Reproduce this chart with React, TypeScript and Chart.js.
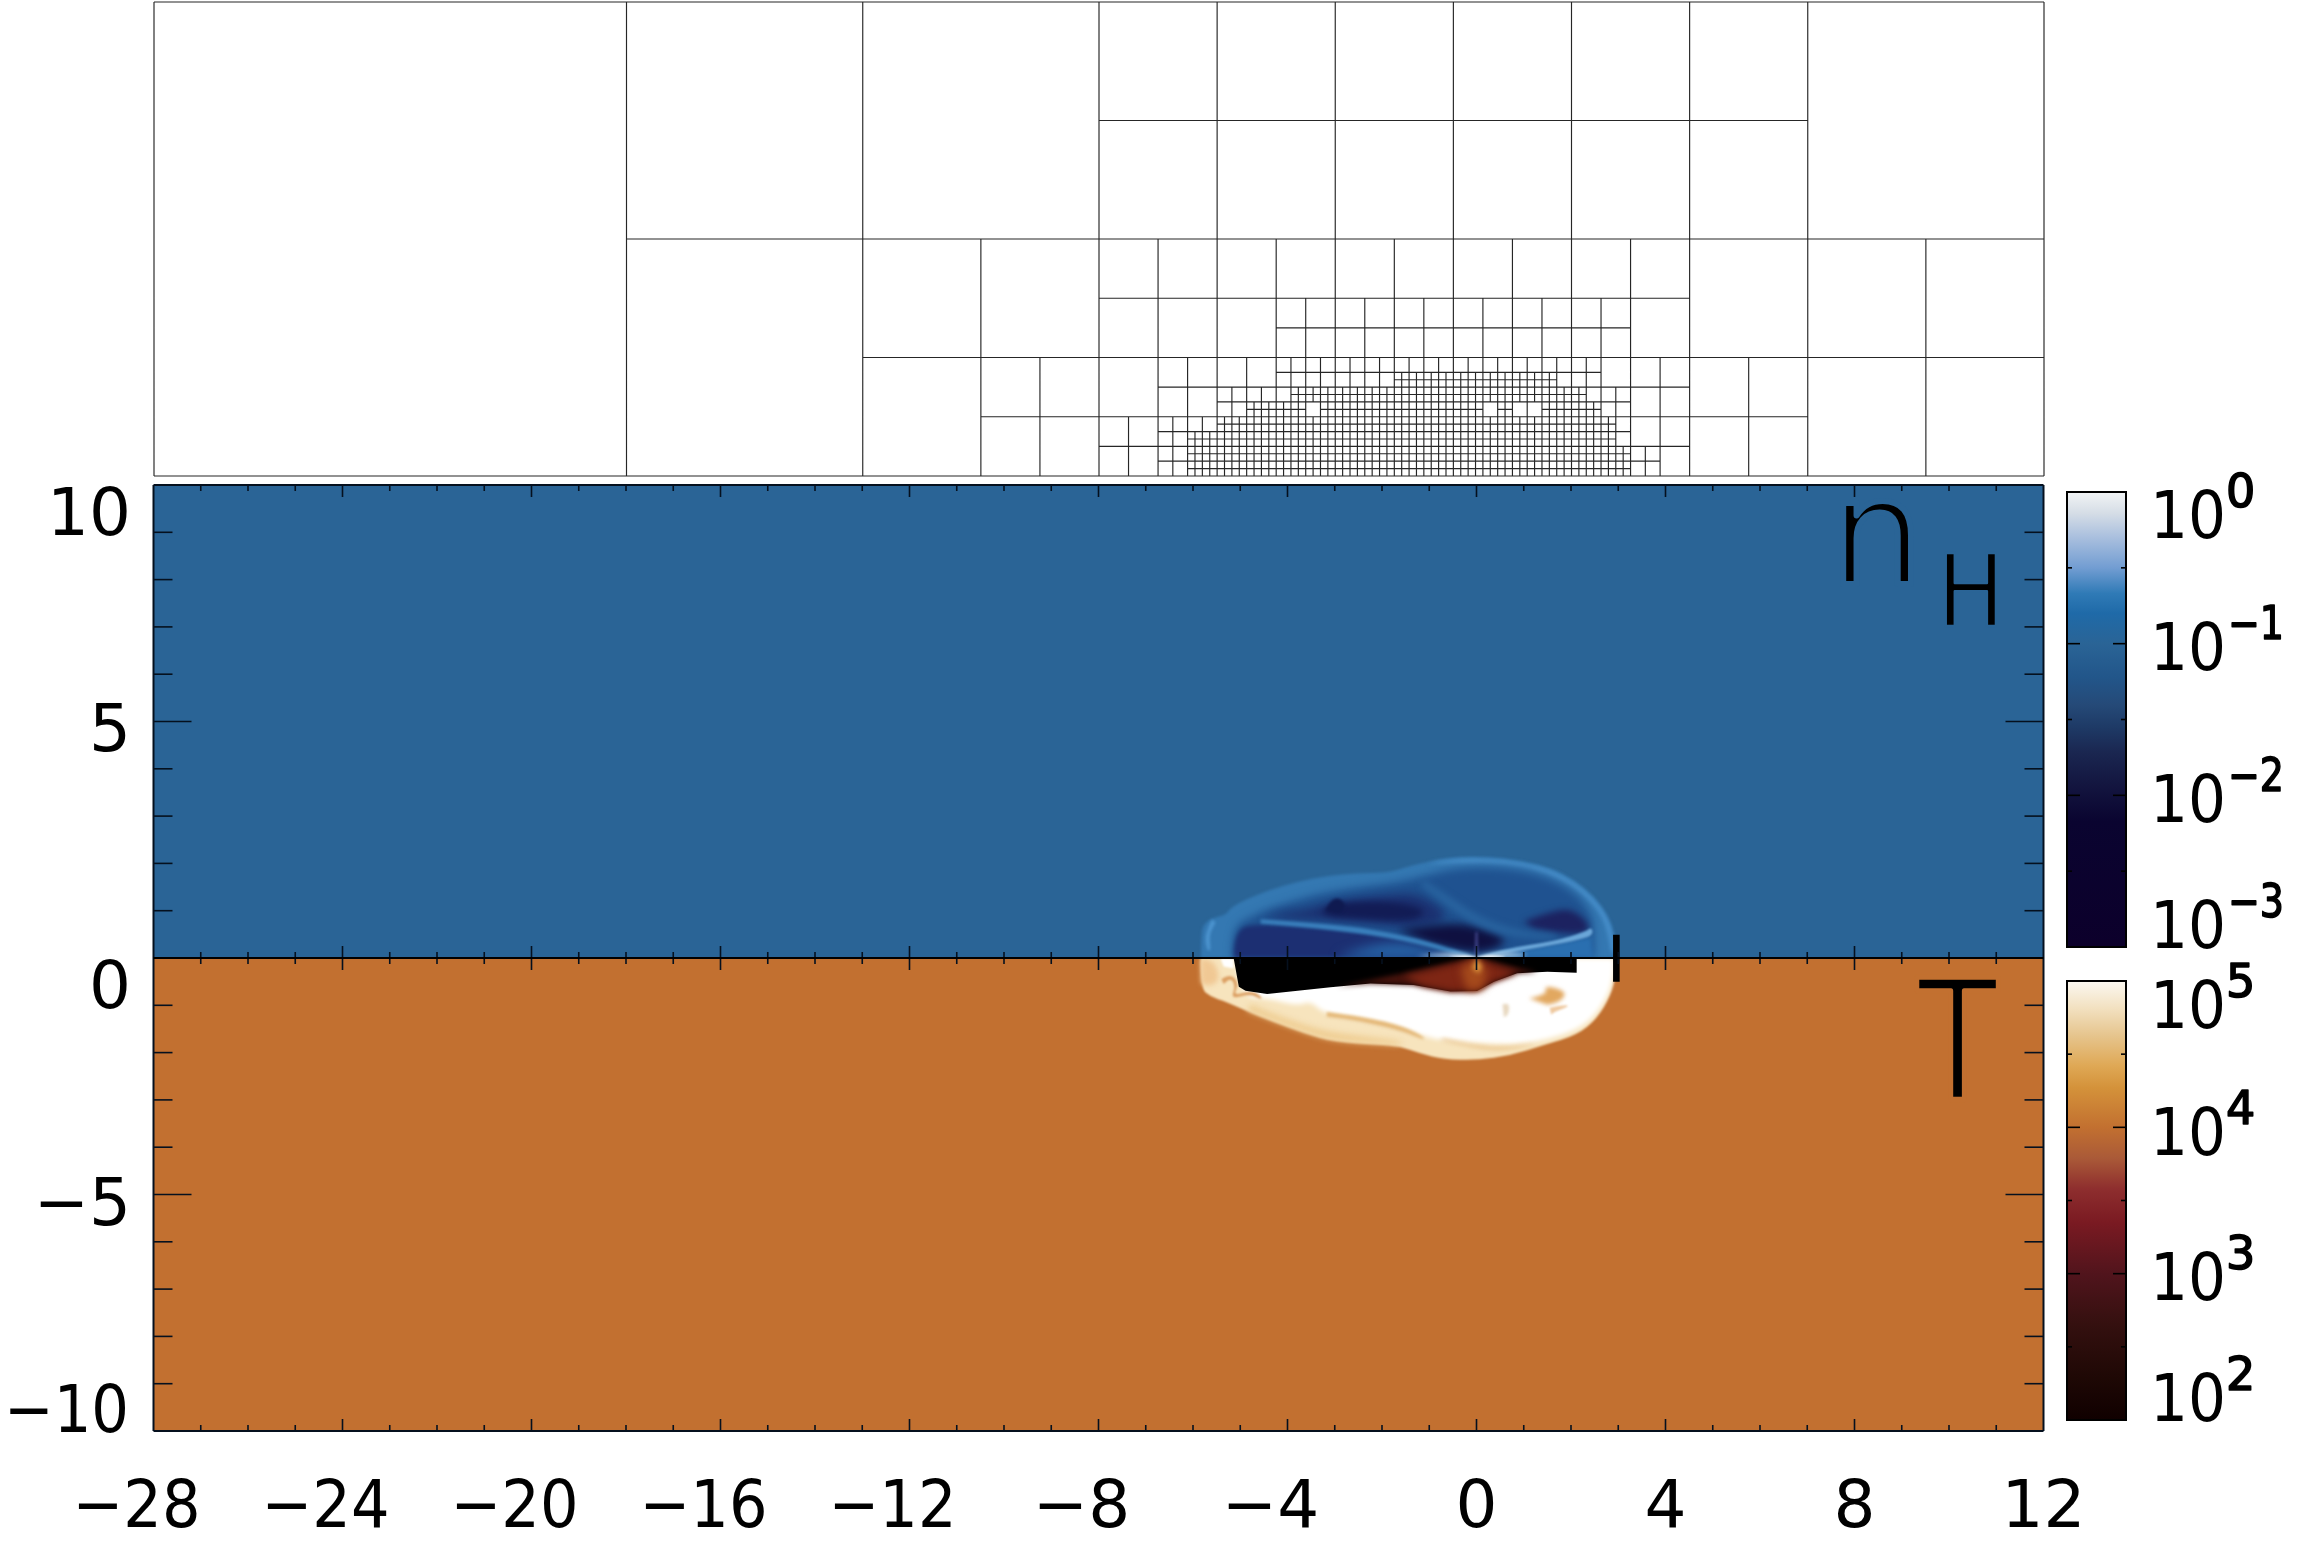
import React, { useEffect, useRef } from "react";
import Chart from "chart.js/auto";

// ---------- axis data ----------
const xMin = -28, xMax = 12, yMin = -10, yMax = 10;
const xTickLabels = [-28, -24, -20, -16, -12, -8, -4, 0, 4, 8, 12];
const yTickLabels = [10, 5, 0, -5, -10];
const nhExponents = [0, -1, -2, -3];
const tExponents = [5, 4, 3, 2];

// ---------- mesh: x0, x1, y0, y1, cell size ----------
const meshBlocks = [
  [-28, -18, 0, 10, 10], [-18, -8, 5, 10, 5], [-18, -13, 0, 5, 5], [-13, -8, 2.5, 5, 2.5],
  [-13, -10.5, 0, 2.5, 2.5], [-10.5, -8, 0, 2.5, 1.25], [-8, 7, 5, 10, 2.5], [7, 12, 5, 10, 5],
  [4.5, 7, 2.5, 5, 2.5], [7, 12, 0, 5, 2.5], [4.5, 7, 0, 2.5, 1.25], [-8, 4.5, 3.75, 5, 1.25],
  [-8, -4.25, 2.5, 3.75, 1.25], [-4.25, 3.25, 2.5, 3.75, 0.625], [3.25, 4.5, 2.5, 3.75, 1.25],
  [-8, -6.75, 1.25, 2.5, 1.25], [-6.75, -4.25, 1.875, 2.5, 0.625],
  [-4.25, 2.625, 2.1875, 2.5, 0.3125], [-4.25, -1.75, 1.875, 2.1875, 0.3125],
  [-1.75, 1.6875, 1.875, 2.1875, 0.15625], [1.6875, 2.625, 1.875, 2.1875, 0.3125],
  [2.625, 3.25, 1.875, 2.5, 0.625], [3.25, 4.5, 1.25, 2.5, 0.625],
  [-6.75, -5.5, 1.25, 1.875, 0.625], [-5.5, -4.25, 1.5625, 1.875, 0.3125],
  [-4.25, -3.9375, 1.5625, 1.875, 0.3125], [-3.9375, 2.3125, 1.5625, 1.875, 0.15625],
  [2.3125, 3.25, 1.5625, 1.875, 0.3125],
  [-5.5, -4.875, 1.25, 1.5625, 0.3125], [-4.875, -3.625, 1.25, 1.5625, 0.15625],
  [-3.625, -3.3125, 1.25, 1.5625, 0.3125], [-3.3125, 0.125, 1.25, 1.5625, 0.15625],
  [0.125, 0.4375, 1.25, 1.5625, 0.3125], [0.4375, 0.75, 1.25, 1.5625, 0.15625],
  [0.75, 1.375, 1.25, 1.5625, 0.3125], [1.375, 2.625, 1.25, 1.5625, 0.15625],
  [2.625, 3.25, 1.25, 1.5625, 0.3125],
  [-8, -6.75, 0, 1.25, 0.625], [-6.75, -6.125, 0, 1.25, 0.3125], [-6.125, -5.5, 0.9375, 1.25, 0.3125],
  [-6.125, -5.5, 0, 0.9375, 0.15625], [-5.5, 2.9375, 0, 1.25, 0.15625],
  [2.9375, 3.25, 0.625, 1.25, 0.3125], [2.9375, 3.25, 0, 0.625, 0.15625],
  [3.25, 3.875, 0, 0.625, 0.3125], [3.875, 4.5, 0, 0.625, 0.625], [3.25, 4.5, 0.625, 1.25, 0.625],
];

// ---------- field outlines, [x, y] in plot units ----------
const nhBackground = [[-28, 0], [12, 0], [12, 10], [-28, 10]];
const tBackground = [[-28, 0], [12, 0], [12, -10], [-28, -10]];
const nhShell = [[-5.83, 0], [-5.83, 0.49], [-5.77, 0.73], [-5.56, 0.86], [-5.31, 0.91], [-5.21, 1.05], [-4.85, 1.26], [-4.36, 1.44], [-3.8, 1.61], [-3.16, 1.74], [-2.53, 1.79], [-1.89, 1.8], [-1.54, 1.9], [-1.04, 2.04], [-0.48, 2.13], [0.23, 2.14], [0.93, 2.06], [1.57, 1.9], [2.06, 1.65], [2.48, 1.3], [2.77, 0.91], [2.91, 0.52], [2.96, 0]];
const nhShellEdge = [[-1.04, 2.0], [-0.48, 2.09], [0.23, 2.1], [0.93, 2.02], [1.57, 1.86], [2.06, 1.61], [2.48, 1.26], [2.77, 0.87], [2.9, 0.45], [2.94, 0.1], [2.85, 0.1], [2.81, 0.45], [2.68, 0.85], [2.4, 1.22], [2.0, 1.54], [1.52, 1.78], [0.93, 1.95], [0.23, 2.02], [-0.48, 2.01]];
const nhLeftCurl = [[-5.6, 0.82], [-5.76, 0.5], [-5.7, 0.15], [-5.62, 0.15], [-5.66, 0.5], [-5.52, 0.75]];
const nhInner = [[2.47, 0], [2.5, 0.59], [2.41, 0.98], [2.1, 1.37], [1.57, 1.68], [0.93, 1.86], [0.23, 1.93], [-0.48, 1.9], [-1.04, 1.75], [-1.61, 1.61], [-2.38, 1.51], [-3.16, 1.4], [-3.8, 1.23], [-4.36, 1.05], [-4.78, 0.87], [-5.14, 0.66], [-5.17, 0]];
const nhDarkBand = [[-4.5, 0.86], [-4.08, 0.98], [-3.65, 1.01], [-3.16, 1.16], [-2.53, 1.26], [-1.89, 1.33], [-1.33, 1.37], [-0.9, 1.16], [-0.62, 0.91], [-0.83, 0.73], [-1.54, 0.65], [-2.24, 0.73], [-3.09, 0.8], [-3.8, 0.82]];
const nhDarkCore = [[-3.3, 0.95], [-3.12, 1.14], [-2.6, 1.18], [-1.9, 1.2], [-1.3, 1.1], [-1.05, 0.95], [-1.4, 0.78], [-2.3, 0.82], [-3.0, 0.86]];
const nhSwirl = [[-3.2, 1.0], [-3.1, 1.22], [-2.9, 1.28], [-2.75, 1.1], [-2.9, 0.95]];
const nhLowerLeft = [[-5.14, 0], [-5.14, 0.61], [-4.57, 0.73], [-2.95, 0.61], [-1.54, 0.42], [-0.41, 0.06], [-0.41, 0]];
const nhLowerGlow = [[-2.95, 0], [-2.1, 0.38], [-0.83, 0.2], [-0.27, 0]];
const nhCentre = [[-1.68, 0.59], [-0.97, 0.7], [-0.27, 0.73], [0.3, 0.56], [0.68, 0.35], [0.23, 0.13], [-0.27, 0.13], [-0.97, 0.31]];
const nhRightDark = [[1.0, 0.77], [1.43, 0.94], [1.92, 1.05], [2.2, 0.91], [2.4, 0.66], [2.27, 0.5], [1.64, 0.54], [1.21, 0.63]];
const nhCurveBand = [[-1.11, 1.65], [-0.62, 1.33], [-0.13, 0.98], [0.4, 0.73], [1.0, 0.56], [1.71, 0.49], [1.71, 0.4], [1.0, 0.42], [0.33, 0.56], [-0.2, 0.8], [-0.69, 1.16], [-1.19, 1.54]];
const nhLeftStreak = [[-4.57, 0.82], [-2.95, 0.72], [-1.54, 0.49], [-0.41, 0.17], [0, 0.01], [-0.41, 0.06], [-1.54, 0.38], [-2.95, 0.59], [-4.57, 0.73]];
const nhRightFloor = [[0.1, 0], [2.43, 0.45], [2.47, 0]];
const nhRightStreak = [[0, 0.01], [0.58, 0.2], [1.64, 0.35], [2.31, 0.56], [2.43, 0.65], [2.47, 0.52], [2.34, 0.42], [1.64, 0.28], [0.65, 0.1]];
const nhRays = [[-1.26, 0.03], [-0.55, 0.13], [-0.13, 0.06], [0, 0.01], [0.12, 0.06], [0.58, 0.13], [1.21, 0.06], [0.58, 0], [-0.48, 0]];
const nhCore = [[-0.6, 0.03], [-0.2, 0.07], [0, 0.01], [0.25, 0.07], [0.7, 0.03], [0.4, 0], [-0.3, 0]];
const nhVertical = [[-0.03, 0.05], [-0.02, 0.55], [0.02, 0.55], [0.03, 0.05]];

const tOuter = [[-5.84, 0], [-5.84, -0.64], [-5.63, -0.82], [-5.31, -0.92], [-4.85, -1.13], [-4.29, -1.35], [-3.65, -1.59], [-3.02, -1.77], [-2.1, -1.83], [-1.61, -1.87], [-1.19, -2.02], [-0.69, -2.14], [0.01, -2.16], [0.72, -2.06], [1.43, -1.84], [2.13, -1.63], [2.55, -1.28], [2.84, -0.78], [2.94, -0.36], [2.94, 0]];
const tLowerBand = [[-4.85, -1.11], [-4.29, -1.33], [-3.65, -1.57], [-3.02, -1.75], [-2.1, -1.81], [-1.61, -1.85], [-1.54, -1.76], [-2.38, -1.66], [-3.23, -1.55], [-4.08, -1.27], [-4.78, -0.99]];
const tWhite = [[-5.1, 0], [-5.0, -0.82], [-4.43, -0.85], [-3.8, -1.01], [-3.51, -0.91], [-3.23, -1.18], [-2.38, -1.29], [-1.54, -1.5], [-1.08, -1.66], [-0.83, -1.72], [-0.55, -1.73], [0.23, -1.82], [0.93, -1.82], [1.5, -1.72], [2.13, -1.52], [2.52, -1.21], [2.8, -0.75], [2.91, -0.36], [2.91, 0]];
const tCornerPeach = [[-5.84, -0.01], [-5.56, -0.01], [-5.42, -0.46], [-5.63, -0.6], [-5.83, -0.54]];
const tCornerWhite = [[-5.42, -0.01], [-5.14, -0.01], [-5.14, -0.22], [-5.35, -0.18]];
const tCurl = [[-5.4, -0.45], [-5.2, -0.32], [-5.03, -0.55], [-5.15, -0.8], [-4.75, -0.68], [-4.55, -0.82], [-4.55, -0.88], [-4.8, -0.76], [-5.2, -0.87], [-5.1, -0.6], [-5.2, -0.42], [-5.35, -0.55]];
const tLeftStreak = [[-3.17, -1.14], [-2.38, -1.24], [-1.54, -1.45], [-1.11, -1.67], [-1.11, -1.74], [-1.54, -1.56], [-2.38, -1.35], [-3.17, -1.24]];
const tRightStreak = [[-0.76, -1.73], [-0.13, -1.89], [0.58, -1.96], [1.43, -1.77], [0.58, -1.91], [-0.13, -1.84], [-0.69, -1.7]];
const tPatch = [[1.11, -0.85], [1.5, -0.78], [1.43, -0.57], [1.92, -0.71], [1.78, -0.92], [1.5, -0.99]];
const tSpeck = [[0.55, -0.98], [0.7, -0.93], [0.68, -1.2], [0.58, -1.25]];
const tLoop = [[1.55, -1.05], [1.9, -0.98], [1.95, -1.03], [1.65, -1.14], [1.58, -1.2]];
const tBlack = [[-5.14, 0], [-5.03, -0.61], [-4.89, -0.69], [-4.43, -0.76], [-3.09, -0.62], [-2.24, -0.54], [-1.33, -0.57], [-0.55, -0.71], [0.01, -0.7], [0.37, -0.5], [0.86, -0.32], [1.5, -0.29], [2.12, -0.31], [2.12, 0]];
const tWedgeDark = [[0, 0], [1.28, -0.3], [0.86, -0.32], [0.37, -0.5], [0.01, -0.7], [-0.55, -0.71], [-1.33, -0.57], [-2.24, -0.54], [-2.95, -0.61]];
const tWedgeRed = [[0, -0.01], [0.58, -0.22], [0.86, -0.31], [0.37, -0.49], [0.01, -0.68], [-0.55, -0.7], [-1.11, -0.59], [-1.54, -0.39]];
const tWedgeMid = [[0, -0.01], [0.23, -0.29], [0.12, -0.66], [-0.2, -0.68], [-0.34, -0.22]];
const tWedgeHot = [[0, 0], [0.12, -0.18], [0.05, -0.32], [-0.09, -0.22]];
const midBar = [[2.89, 0.49], [3.03, 0.49], [3.03, -0.5], [2.89, -0.5]];

// ---------- colour bars: exponent, colour ----------
const nhStops: [number, string][] = [[0, "#f2f4f5"], [-0.14, "#d5dde6"], [-0.3, "#a9bfde"], [-0.5, "#729dd2"], [-0.67, "#2f7ab6"], [-0.8, "#1f6aa8"], [-1, "#2a6496"], [-1.22, "#22568a"], [-1.4, "#254a78"], [-1.55, "#1e3a66"], [-1.72, "#1a2650"], [-1.94, "#13153f"], [-2.17, "#0a0430"], [-3, "#0c002b"]];
const tStops: [number, string][] = [[5, "#fbf8f1"], [4.81, "#f2e0bf"], [4.63, "#e6c58e"], [4.42, "#dfa855"], [4.27, "#d4923a"], [4, "#c27030"], [3.79, "#aa5a38"], [3.58, "#8e2e2e"], [3.35, "#7a1a22"], [2.99, "#50141c"], [2.65, "#34100f"], [2.28, "#1e0805"], [2, "#100000"]];

// ---------- styling of field layers ----------
const nhLayers = [
  [nhBackground, "#2a6496", 0, false], [nhShell, "#3478b2", 1.5, true], [nhShellEdge, "#4a92ce", 2, true],
  [nhLeftCurl, "#4c94cf", 1.5, true], [nhInner, "#1f5290", 4, true],
  [nhDarkBand, "#1b3070", 5, true], [nhDarkCore, "#121c55", 3, true], [nhSwirl, "#0f1a50", 1.5, true],
  [nhLowerLeft, "#1c2f72", 2, true], [nhLowerGlow, "#2666a8", 6, true],
  [nhCentre, "#0f1040", 4, true], [nhRightDark, "#1c2260", 3, true], [nhCurveBand, "#28639f", 3, true],
  [nhLeftStreak, "#3a80bd", 1.8, true], [nhRightFloor, "#2a6fb0", 2, false], [nhRightStreak, "#6aa6d8", 1.3, true],
  [nhVertical, "#4a4f98", 1.5, false], [nhRays, "#b8d6ee", 2.5, true], [nhCore, "#ffffff", 1.2, true],
] as const;
const tLayers = [
  [tBackground, "#c27030", 0, false], [tOuter, "#f7e4bd", 0.8, true], [tLowerBand, "#eecb8e", 3, true],
  [tWhite, "#ffffff", 2.5, true], [tCornerPeach, "#f0c894", 2.5, true], [tCornerWhite, "#ffffff", 1, false],
  [tCurl, "#dca064", 1.2, true], [tLeftStreak, "#e4b878", 1.8, true], [tRightStreak, "#e6bb80", 2, true],
  [tPatch, "#e2a860", 2, true], [tSpeck, "#e8d8c0", 1.5, true], [tLoop, "#efc9a0", 1.2, true],
  [tBlack, "#000000", 0.6, false], [tWedgeDark, "#45130c", 2.5, false],
  [tWedgeRed, "#7e2614", 3.5, false], [tWedgeMid, "#a54a1c", 4, false], [tWedgeHot, "#e09a40", 2.5, false],
] as const;

// ---------- page layout (pixels) ----------
const W = 2303, H = 1555;
const plot = { l: 153.5, r: 2043.5, t: 485, b: 1431 };
const mesh = { l: 154, r: 2044, t: 2, b: 476 };
const barNh = { l: 2067, r: 2126, t: 492, b: 947 };
const barT = { l: 2067, r: 2126, t: 981, b: 1420 };
const FONT = "'DejaVu Sans'";
const yBaselineOffset: Record<string, number> = { "10": 50, "5": 29, "0": 50, "-5": 30.5, "-10": 1 };
const nhLabelBaseline: Record<string, number> = { "0": 538, "-1": 670, "-2": 822, "-3": 948 };
const tLabelBaseline: Record<string, number> = { "5": 1028, "4": 1155, "3": 1300, "2": 1421 };

const minus = (v: number) => String(v).replace("-", "\u2212");
const pad = (a: { l: number; r: number; t: number; b: number }) => ({ left: a.l, right: W - a.r, top: a.t, bottom: H - a.b });
const quietAxis = (min: number, max: number, stepSize: number) => ({
  type: "linear" as const, min, max, display: true,
  ticks: { display: false, stepSize, autoSkip: false },
  grid: { display: false, drawTicks: false }, border: { display: false },
});
const baseOptions = (area: any) => ({
  responsive: false, animation: false as const, devicePixelRatio: 1, events: [] as any[],
  layout: { padding: pad(area), autoPadding: false },
  plugins: { legend: { display: false }, tooltip: { enabled: false }, title: { display: false } },
});

function meshSegments() {
  const pts: { x: number; y: number }[] = [];
  const gap = () => pts.push({ x: NaN, y: NaN });
  for (const [x0, x1, y0, y1, h] of meshBlocks) {
    const nx = Math.round((x1 - x0) / h), ny = Math.round((y1 - y0) / h);
    for (let i = 0; i <= nx; i++) { pts.push({ x: x0 + i * h, y: y0 }, { x: x0 + i * h, y: y1 }); gap(); }
    for (let j = 0; j <= ny; j++) { pts.push({ x: x0, y: y0 + j * h }, { x: x1, y: y0 + j * h }); gap(); }
  }
  return pts;
}

const fieldPlugin = {
  id: "field",
  beforeDatasetsDraw(chart: any) {
    const { ctx, chartArea: a, scales: { y } } = chart;
    const mid = y.getPixelForValue(0);
    chart.data.datasets.forEach((ds: any, i: number) => {
      if (!ds.layer) return;
      const els = chart.getDatasetMeta(i).data;
      const c = ctx; c.save();
      c.beginPath();
      if (ds.layer === "top") c.rect(a.left, a.top, a.width, mid - a.top);
      else if (ds.layer === "bottom") c.rect(a.left, mid, a.width, a.bottom - mid);
      else c.rect(a.left, a.top, a.width, a.height);
      c.clip();
      if (ds.blur) c.filter = `blur(${ds.blur}px)`;
      c.fillStyle = ds.fillColor;
      c.beginPath();
      const n = els.length;
      if (ds.smooth) {
        c.moveTo(els[0].x, els[0].y);
        for (let k = 1; k < n - 1; k++) {
          const mx = (els[k].x + els[k + 1].x) / 2, my = (els[k].y + els[k + 1].y) / 2;
          c.quadraticCurveTo(els[k].x, els[k].y, mx, my);
        }
        c.lineTo(els[n - 1].x, els[n - 1].y);
      } else {
        els.forEach((e: any, k: number) => (k ? c.lineTo(e.x, e.y) : c.moveTo(e.x, e.y)));
      }
      c.closePath();
      c.fill();
      c.restore();
    });
  },
  afterDraw(chart: any) {
    const { ctx: c, chartArea: a, scales: { x, y } } = chart;
    const mid = y.getPixelForValue(0);
    c.save();
    c.strokeStyle = "#05101e"; c.lineWidth = 1.6;
    const line = (x0: number, y0: number, x1: number, y1: number) => { c.beginPath(); c.moveTo(x0, y0); c.lineTo(x1, y1); c.stroke(); };
    for (const t of x.ticks) {
      const p = x.getPixelForValue(t.value), len = t.value % 4 === 0 ? 12 : 6;
      if (t.value === xMin || t.value === xMax) continue;
      line(p, a.top, p, a.top + len); line(p, a.bottom, p, a.bottom - len);
      line(p, mid - len, p, mid + len);
    }
    for (const t of y.ticks) {
      if (t.value === yMin || t.value === yMax || t.value === 0) continue;
      const p = y.getPixelForValue(t.value), len = t.value % 5 === 0 ? 38 : 19;
      line(a.left, p, a.left + len, p); line(a.right, p, a.right - len, p);
    }
    c.lineWidth = 2;
    line(a.left, a.top, a.right, a.top); line(a.left, a.bottom, a.right, a.bottom);
    line(a.left, a.top, a.left, a.bottom); line(a.right, a.top, a.right, a.bottom);
    c.strokeStyle = "#000"; line(a.left, mid, a.right, mid);

    c.fillStyle = "#000"; c.textBaseline = "alphabetic";
    c.font = `66px ${FONT}`; c.textAlign = "center";
    for (const v of xTickLabels) {
      const s = minus(v);
      const px = x.getPixelForValue(v) + (v < 0 ? -17 : 0);
      if (v <= -10) c.fillText(s, px, 1527, 128); else c.fillText(s, px, 1527);
    }
    c.textAlign = "right";
    for (const v of yTickLabels) {
      const py = y.getPixelForValue(v) + yBaselineOffset[String(v)];
      if (v <= -10) c.fillText(minus(v), 129, py, 125); else c.fillText(minus(v), 131, py);
    }
    // thin upright letters: glyph filled, then trimmed with the field colour
    const thin = (s: string, dx: number, dy: number, size: number, sx: number, trim: number, bg: string) => {
      c.save();
      c.translate(x.getPixelForValue(dx), y.getPixelForValue(dy));
      c.scale(sx, 1);
      c.font = `${size}px ${FONT}`; c.textAlign = "center";
      c.fillStyle = "#000"; c.fillText(s, 0, 0);
      c.strokeStyle = bg; c.lineWidth = trim; c.lineJoin = "round"; c.strokeText(s, 0, 0);
      c.restore();
    };
    thin("n", 8.47, 7.9, 148, 1, 6, "#2a6496");
    thin("H", 10.46, 7.02, 100, 0.9, 2.5, "#2a6496");
    thin("T", 10.18, -2.98, 168, 0.78, 5.5, "#c27030");
    c.restore();
  },
};

const barPlugin = (exps: number[], baselines: Record<string, number>) => ({
  id: "barFrame",
  afterDraw(chart: any) {
    const { ctx: c, chartArea: a, scales: { y } } = chart;
    c.save();
    c.strokeStyle = "#000"; c.lineWidth = 1.6;
    const line = (x0: number, y0: number, x1: number, y1: number) => { c.beginPath(); c.moveTo(x0, y0); c.lineTo(x1, y1); c.stroke(); };
    for (const t of y.ticks) {
      if (t.value === y.min || t.value === y.max) continue;
      const p = y.getPixelForValue(t.value), len = Number.isInteger(t.value) ? 13 : 5;
      line(a.left, p, a.left + len, p); line(a.right, p, a.right - len, p);
    }
    c.lineWidth = 2;
    c.strokeRect(a.left, a.top, a.width, a.height);
    c.fillStyle = "#000"; c.strokeStyle = "#000"; c.textBaseline = "alphabetic"; c.textAlign = "left";
    for (const e of exps) {
      const b = baselines[String(e)];
      c.font = `66px ${FONT}`;
      c.fillText("10", 2150, b, 76);
      c.font = `46px ${FONT}`;
      c.lineWidth = 1.6; c.lineJoin = "round";
      if (e < 0) { c.fillText(minus(e), 2228, b - 31, 56); c.strokeText(minus(e), 2228, b - 31, 56); }
      else { c.fillText(String(e), 2226, b - 31); c.strokeText(String(e), 2226, b - 31); }
    }
    c.restore();
  },
});

function colorBar(canvas: HTMLCanvasElement, area: any, stops: [number, string][], exps: number[], baselines: Record<string, number>) {
  const top = stops[0][0], bottom = stops[stops.length - 1][0];
  return new Chart(canvas, {
    type: "bar",
    data: {
      labels: ["colour"],
      datasets: [{
        data: [[bottom, top]] as any,
        barPercentage: 1, categoryPercentage: 1, borderWidth: 0,
        backgroundColor: (ctx: any) => {
          const y = ctx.chart.scales.y;
          const y0 = y ? y.getPixelForValue(top) : NaN, y1 = y ? y.getPixelForValue(bottom) : NaN;
          if (!Number.isFinite(y0) || !Number.isFinite(y1)) return stops[0][1];
          const g = ctx.chart.ctx.createLinearGradient(0, y0, 0, y1);
          for (const [e, col] of stops) g.addColorStop((top - e) / (top - bottom), col);
          return g;
        },
      }],
    },
    options: {
      ...baseOptions(area),
      scales: {
        x: { display: true, ticks: { display: false }, grid: { display: false, drawTicks: false }, border: { display: false } },
        y: quietAxis(bottom, top, 0.5),
      },
    } as any,
    plugins: [barPlugin(exps, baselines)],
  });
}

const fieldDataset = (pts: readonly any[], color: string, blur: number, smooth: boolean, layer: string) => ({
  data: pts.map(([x, y]: number[]) => ({ x, y })),
  showLine: false, pointRadius: 0, layer, fillColor: color, blur, smooth,
});

export default function App() {
  const meshRef = useRef<HTMLCanvasElement>(null);
  const fieldRef = useRef<HTMLCanvasElement>(null);
  const nhRef = useRef<HTMLCanvasElement>(null);
  const tRef = useRef<HTMLCanvasElement>(null);
  useEffect(() => {
    const charts = [
      new Chart(meshRef.current!, {
        type: "scatter",
        data: { datasets: [{ data: meshSegments(), showLine: true, spanGaps: false, borderColor: "#262626", borderWidth: 1.15, pointRadius: 0, clip: 3 } as any] },
        options: { ...baseOptions(mesh), scales: { x: quietAxis(xMin, xMax, 4), y: quietAxis(0, 10, 5) } } as any,
      }),
      new Chart(fieldRef.current!, {
        type: "scatter",
        data: {
          datasets: [
            ...nhLayers.map(([p, c, b, s]) => fieldDataset(p, c, b, s, "top")),
            ...tLayers.map(([p, c, b, s]) => fieldDataset(p, c, b, s, "bottom")),
            fieldDataset(midBar, "#000000", 0, false, "all"),
          ] as any,
        },
        options: { ...baseOptions(plot), scales: { x: quietAxis(xMin, xMax, 1), y: quietAxis(yMin, yMax, 1) } } as any,
        plugins: [fieldPlugin],
      }),
      colorBar(nhRef.current!, barNh, nhStops, nhExponents, nhLabelBaseline),
      colorBar(tRef.current!, barT, tStops, tExponents, tLabelBaseline),
    ];
    return () => charts.forEach((c) => c.destroy());
  }, []);
  const style: React.CSSProperties = { position: "absolute", left: 0, top: 0, width: W, height: H, display: "block" };
  return (
    <div style={{ position: "absolute", left: 0, top: 0, width: W, height: H, background: "#fff", overflow: "hidden" }}>
      <canvas ref={meshRef} width={W} height={H} style={style} />
      <canvas ref={fieldRef} width={W} height={H} style={style} />
      <canvas ref={nhRef} width={W} height={H} style={style} />
      <canvas ref={tRef} width={W} height={H} style={style} />
    </div>
  );
}
